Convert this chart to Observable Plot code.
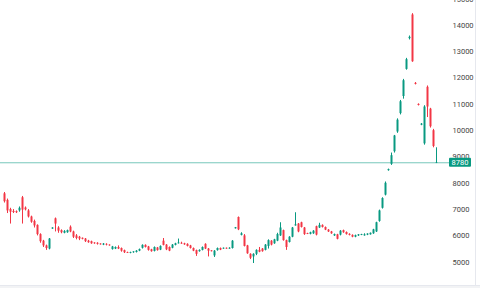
<!DOCTYPE html>
<html><head><meta charset="utf-8">
<script src="https://cdn.jsdelivr.net/npm/d3@7"></script>
<script src="https://cdn.jsdelivr.net/npm/@observablehq/plot@0.6"></script>
<style>body{margin:0;background:#fff;overflow:hidden}</style>
</head><body><div id="chart"></div>
<script>
const open = [7600,7350,7000,6930,6920,6950,7450,7060,6950,6720,6550,6400,6050,5800,5620,5500,6260,6650,6300,6200,6100,6120,6330,6150,6000,5950,5910,5880,5800,5780,5730,5720,5690,5650,5680,5650,5480,5500,5560,5520,5440,5370,5340,5360,5370,5420,5530,5640,5580,5470,5410,5540,5460,5800,5650,5560,5530,5640,5700,5720,5700,5680,5620,5520,5440,5400,5450,5680,5500,5430,5240,5440,5520,5500,5530,5500,5520,6270,6700,6020,6000,5620,5300,5200,5300,5450,5500,5450,5600,5800,5700,5800,6000,6200,5820,5750,5950,6380,6450,6500,6300,6090,6060,6080,6350,6300,6400,6320,6220,6150,6000,6040,6030,6200,6130,6060,6020,5950,6000,6020,6000,6030,6040,6080,6150,6550,7050,7550,8480,8720,9200,9950,10650,11300,12330,13500,14400,11800,11000,10210,9500,11650,10820,10000,8760];
const close = [7300,6950,6900,6890,6880,7050,6980,6990,6720,6520,6380,6050,5780,5620,5520,5880,6300,6450,6180,6120,6170,6200,6150,5950,5900,5880,5870,5780,5740,5700,5700,5680,5660,5690,5650,5620,5580,5560,5500,5420,5360,5340,5370,5390,5420,5480,5640,5560,5450,5400,5560,5440,5600,5640,5470,5420,5650,5700,5730,5690,5660,5600,5520,5420,5300,5450,5560,5500,5420,5400,5420,5520,5460,5530,5500,5530,5800,6310,6230,6080,5600,5320,5150,5300,5450,5380,5400,5650,5820,5650,5850,6050,6300,5820,5560,5950,6300,6420,6150,6320,6050,6060,6120,6180,6030,6400,6320,6220,6150,6080,6050,5870,6180,6120,6050,6020,5950,6010,6040,6050,6040,6070,6100,6230,6500,6950,7420,8000,8520,9050,9800,10400,11100,11900,12700,13550,12620,11760,10960,10250,10900,10900,10150,9400,8780];
const high = [7650,7400,7050,7000,6950,7100,7500,7100,7000,6750,6600,6420,6080,5830,5650,5900,6310,6680,6350,6230,6200,6220,6380,6180,6050,5980,5920,5900,5830,5800,5740,5740,5700,5710,5700,5660,5600,5580,5620,5540,5460,5380,5380,5400,5440,5500,5660,5660,5600,5490,5580,5560,5620,5900,5670,5580,5670,5720,5880,5760,5720,5700,5640,5540,5460,5470,5580,5700,5520,5440,5440,5540,5540,5540,5540,5550,5820,6320,6720,6120,6050,5640,5320,5320,5470,5560,5520,5670,5850,5820,5870,6100,6500,6220,5840,5970,6320,6880,6470,6520,6320,6100,6140,6200,6370,6480,6420,6340,6240,6170,6070,6060,6200,6220,6150,6080,6040,6030,6050,6060,6080,6080,6110,6250,6520,6980,7450,8050,8540,9150,9820,10450,11150,11950,12750,13600,14450,11830,11020,10270,10950,11700,10850,10050,9350];
const low = [7250,6850,6450,6850,6850,6900,6450,6950,6680,6480,6300,6000,5720,5560,5450,5470,6250,6150,6100,6080,6080,6100,6120,5900,5850,5820,5850,5750,5720,5680,5680,5650,5650,5630,5620,5610,5460,5480,5480,5380,5330,5330,5320,5340,5350,5400,5500,5540,5420,5380,5390,5420,5440,5620,5440,5400,5510,5620,5690,5680,5640,5580,5500,5400,5220,5380,5430,5480,5200,5390,5180,5420,5440,5490,5490,5490,5500,6260,6200,6000,5580,5300,5100,4950,5250,5360,5380,5430,5500,5620,5680,5780,5980,5800,5450,5730,5930,6370,6120,6300,6020,6050,6040,6060,6000,6280,6300,6200,6130,6060,5980,5850,6000,6100,6030,6000,5930,5930,5980,6010,5990,6010,6030,6060,6130,6520,7020,7520,8460,8680,9150,9900,10600,11200,12300,13450,12600,11740,10940,10190,9450,10500,10100,9350,8750];
const yTicks = [5000,6000,7000,8000,9000,10000,11000,12000,13000,14000,15000];
const lastPrice = 8780;

const up = "#089981", down = "#f23645";
const data = open.map((o, i) => ({i, open: o, close: close[i], high: high[i], low: low[i],
  color: close[i] >= o ? up : down}));

const plot = Plot.plot({
  width: 480, height: 288,
  marginLeft: 0, marginRight: 31, marginTop: 0, marginBottom: 3,
  style: {background: "#fff", fontFamily: "Roboto, sans-serif", overflow: "visible"},
  x: {type: "linear", domain: [-4/3, 445/3], axis: null},
  y: {domain: [4114, 14950], axis: null},
  color: {type: "identity"},
  marks: [
    Plot.ruleY([lastPrice], {stroke: up, strokeWidth: 1, strokeOpacity: 0.55}),
    Plot.ruleX(data, {x: "i", y1: "low", y2: "high", stroke: "color", strokeWidth: 1}),
    Plot.ruleX(data, {x: "i", y1: "open", y2: "close", stroke: "color", strokeWidth: 2}),
    Plot.text(yTicks, {y: d => d, text: d => String(d), frameAnchor: "right", dx: 3,
      textAnchor: "start", fontSize: 7.5, fill: "#444"})
  ]
});
document.getElementById("chart").appendChild(plot);

const svg = d3.select(plot);
const yPos = plot.scale("y").apply(lastPrice);
svg.append("line").attr("x1", 0).attr("x2", 480).attr("y1", 285.5).attr("y2", 285.5)
  .attr("stroke", "#e6e8ee");
svg.append("rect").attr("x", 0).attr("y", 286).attr("width", 480).attr("height", 2).attr("fill", "#f2f3f5");
svg.append("line").attr("x1", 475.5).attr("x2", 475.5).attr("y1", 0).attr("y2", 286)
  .attr("stroke", "#e6e8ee");
svg.append("rect").attr("x", 449).attr("y", yPos - 4.5).attr("width", 22).attr("height", 9)
  .attr("rx", 1).attr("fill", up);
svg.append("text").attr("x", 460).attr("y", yPos).attr("dy", "0.35em")
  .attr("text-anchor", "middle").attr("fill", "#fff").attr("font-size", 7.5)
  .attr("font-family", "Roboto, sans-serif").text(String(lastPrice));
</script>
</body></html>
